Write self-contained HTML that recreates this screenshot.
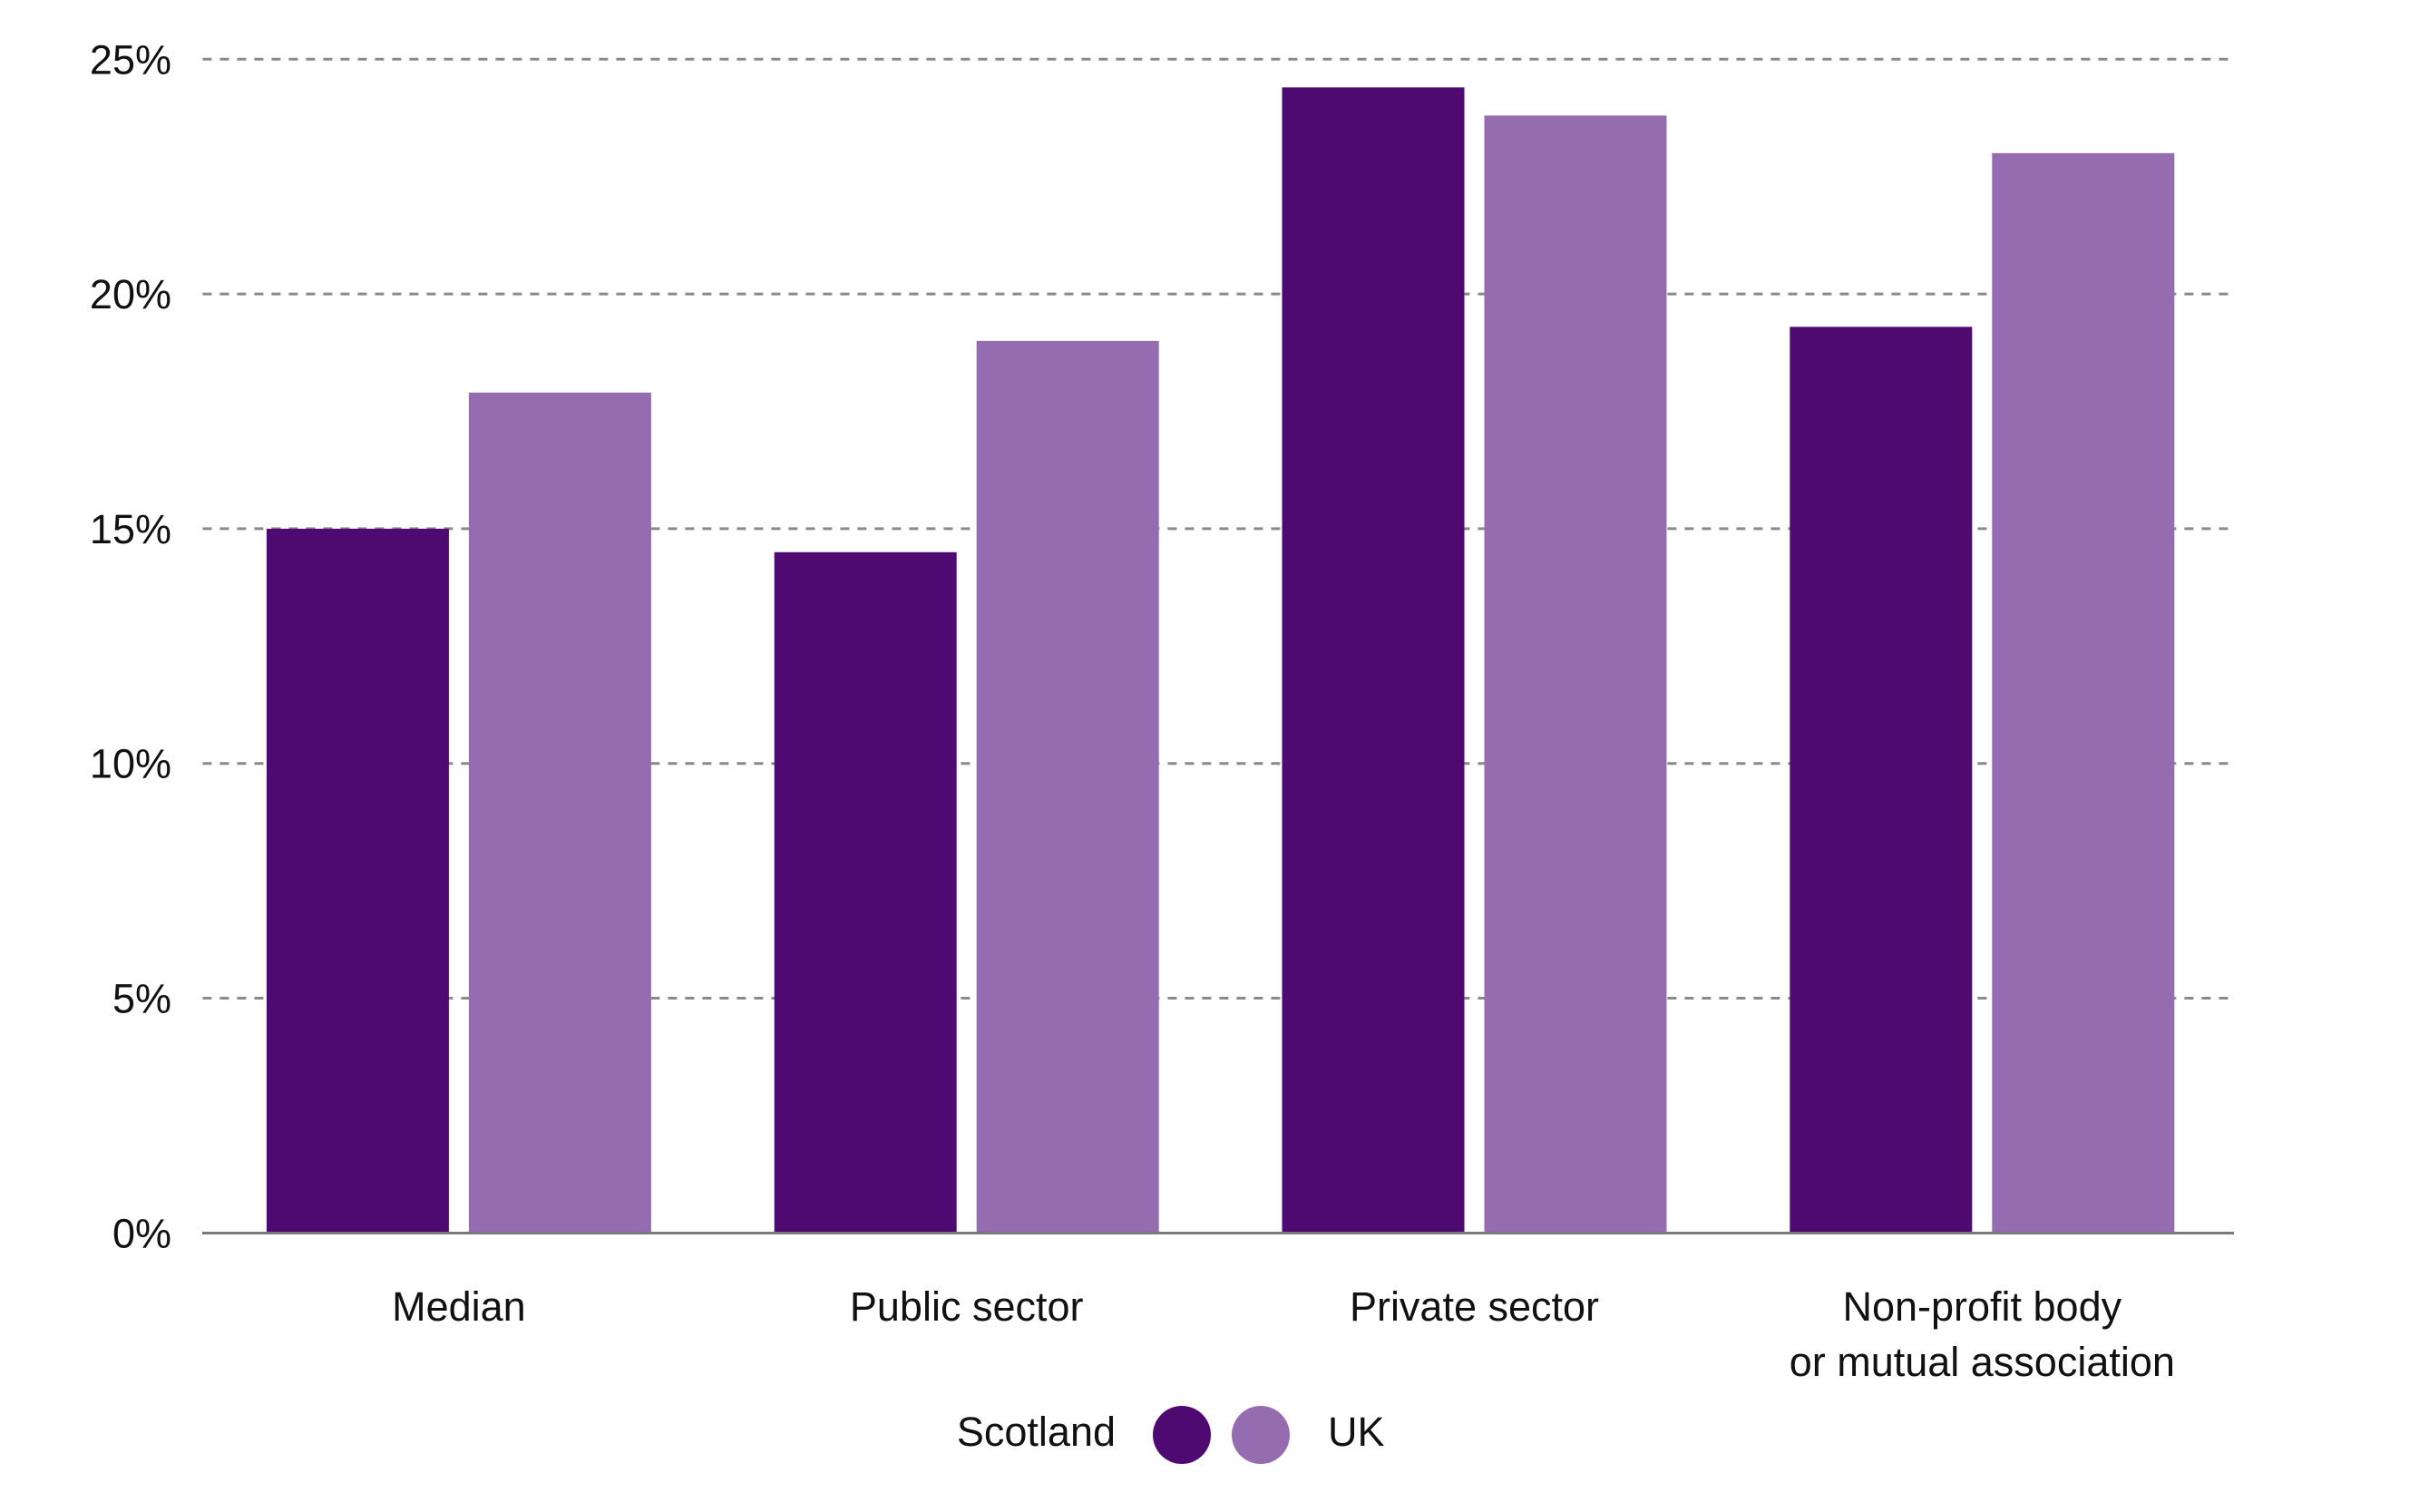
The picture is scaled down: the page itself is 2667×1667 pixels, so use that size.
<!DOCTYPE html>
<html><head><meta charset="utf-8"><style>
html,body{margin:0;padding:0;background:#fff;}
svg{display:block;font-family:"Liberation Sans",Arial,sans-serif;}
</style></head><body>
<svg id="chart" width="2667" height="1667" viewBox="0 0 2667 1667">
<g id="grid"></g>
<g id="bars"></g>
<g id="yticks"></g>
<g id="xlabels"></g>
<line x1="223" x2="2463" y1="1359.5" y2="1359.5" stroke="#7a7a7a" stroke-width="3"/>
<g>
<text x="1230" y="1594" font-size="45" text-anchor="end" fill="#111">Scotland</text>
<circle cx="1303" cy="1582" r="32" fill="#4f0a72"/>
<circle cx="1390" cy="1582" r="32" fill="#956caf"/>
<text x="1464" y="1594" font-size="45" fill="#111">UK</text>
</g>
</svg>
<script>
const categories = [["Median"],["Public sector"],["Private sector"],["Non-profit body","or mutual association"]];
const scotland = [15.0, 14.5, 24.4, 19.3];
const uk = [17.9, 19.0, 23.8, 23.0];
const ticks = [0,5,10,15,20,25];
const tickLabels = ["0%","5%","10%","15%","20%","25%"];

const NS="http://www.w3.org/2000/svg";
const x0=223.4, x1=2462.6, y0=1359.3, yTop=65.3, vmax=25;
const y = v => y0 - (v/vmax)*(y0-yTop);
const groupW=(x1-x0)/categories.length;
const barW=201, gap=22, offset=70.5;
const mk=(t,a,p)=>{const e=document.createElementNS(NS,t);for(const k in a)e.setAttribute(k,a[k]);p.appendChild(e);return e;};
const grid=document.getElementById('grid'), yt=document.getElementById('yticks');
ticks.forEach((t,i)=>{
  if(t>0){const l=mk('line',{x1:x0,x2:x1,y1:y(t),y2:y(t),stroke:'#8a8a8a','stroke-width':3,'stroke-dasharray':'10 9'},grid);
  
  }
  const tx=mk('text',{x:189,y:y(t)+16,'font-size':45,'text-anchor':'end',fill:'#111'},yt);
  tx.textContent=tickLabels[i];
  
  
});
const bars=document.getElementById('bars'), xl=document.getElementById('xlabels');
categories.forEach((c,i)=>{
  const gx=x0+i*groupW+offset;
  const b1=mk('rect',{x:gx,y:y(scotland[i]),width:barW,height:y0-y(scotland[i]),fill:'#4f0a72'},bars);
  
  
  const b2=mk('rect',{x:gx+barW+gap,y:y(uk[i]),width:barW,height:y0-y(uk[i]),fill:'#956caf'},bars);
  
  
  const cx=gx+barW+gap/2;
  c.forEach((line,j)=>{
    const t=mk('text',{x:cx,y:1456+j*61,'font-size':45,'text-anchor':'middle',fill:'#111'},xl);
    t.textContent=line;
    
    
  });
});
</script>
</body></html>
